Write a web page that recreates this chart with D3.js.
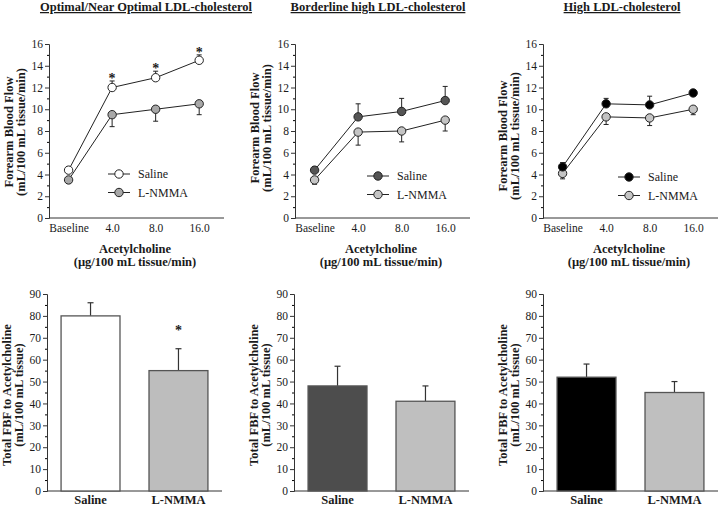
<!DOCTYPE html>
<html><head><meta charset="utf-8">
<script src="https://cdn.jsdelivr.net/npm/d3@7"></script>
<style>
html,body{margin:0;padding:0;background:#fff;}
svg{display:block;font-family:"Liberation Serif","Times New Roman",serif;}
</style></head>
<body><svg id="c" width="720" height="507"></svg>
<script>
// ---------- DATA ----------
const titles = ["Optimal/Near Optimal LDL-cholesterol", "Borderline high LDL-cholesterol", "High LDL-cholesterol"];
const doses = ["Baseline", "4.0", "8.0", "16.0"];
const seriesNames = ["Saline", "L-NMMA"];
const yTicksLine = [0, 2, 4, 6, 8, 10, 12, 14, 16];
const yTicksBar = [0, 10, 20, 30, 40, 50, 60, 70, 80, 90];

const optSaline = [4.4, 12.0, 12.9, 14.5];
const optSalineErr = [0.3, 0.6, 0.6, 0.5];
const optNMMA = [3.5, 9.5, 10.0, 10.5];
const optNMMAErr = [0.3, 1.1, 1.1, 1.0];
const optStars = [false, true, true, true];

const bordSaline = [4.4, 9.3, 9.8, 10.8];
const bordSalineErr = [0.3, 1.2, 1.2, 1.3];
const bordNMMA = [3.5, 7.9, 8.0, 9.0];
const bordNMMAErr = [0.4, 1.2, 1.0, 1.0];
const bordStars = [false, false, false, false];

const highSaline = [4.7, 10.5, 10.4, 11.5];
const highSalineErr = [0.4, 0.5, 0.8, 0.3];
const highNMMA = [4.1, 9.3, 9.2, 10.0];
const highNMMAErr = [0.5, 0.7, 0.7, 0.5];
const highStars = [false, false, false, false];

const totalSaline = [80, 48, 52];
const totalSalineErr = [6, 9, 6];
const totalNMMA = [55, 41, 45];
const totalNMMAErr = [10, 7, 5];
const totalStars = [true, false, false];

// ---------- LAYOUT / STYLE ----------
const salineFill = ["#ffffff", "#555555", "#000000"];
const nmmaFill = ["#a8a8a8", "#c4c4c4", "#c4c4c4"];
const barSalineFill = ["#ffffff", "#4d4d4d", "#000000"];
const barNmmaFill = ["#bdbdbd", "#bfbfbf", "#bfbfbf"];
const axisX = [49, 295, 543];
const titleX = [146, 378, 622];
const legendDX = [59, 72, 75];
const legendY = [174, 176, 177];
const barAxisX = [47, 294, 543];

const svg = d3.select("#c");
const lineSets = [
  {s: optSaline, se: optSalineErr, n: optNMMA, ne: optNMMAErr, stars: optStars},
  {s: bordSaline, se: bordSalineErr, n: bordNMMA, ne: bordNMMAErr, stars: bordStars},
  {s: highSaline, se: highSalineErr, n: highNMMA, ne: highNMMAErr, stars: highStars}
];

const textCol = "#1a1a1a";

lineSets.forEach((d, p) => {
  const x0 = axisX[p];
  const g = svg.append("g");
  g.append("text").attr("x", titleX[p]).attr("y", 11).attr("text-anchor", "middle")
    .attr("font-weight", "bold").attr("font-size", 12.5).attr("fill", textCol)
    .attr("text-decoration", "underline").text(titles[p]);

  const y = d3.scaleLinear().domain([0, 16]).range([218, 44]);
  const x = d3.scaleLinear().domain([-0.45, 3.57]).range([x0, x0 + 175]);

  const ya = d3.axisLeft(y).tickValues(yTicksLine).tickSize(4).tickPadding(2).tickFormat(d3.format("d"));
  const yg = g.append("g").attr("transform", `translate(${x0},0)`).call(ya);
  const ym = d3.axisLeft(y).tickValues(d3.range(1, 16, 2)).tickSize(2).tickFormat("");
  g.append("g").attr("transform", `translate(${x0},0)`).call(ym).select(".domain").remove();
  const xa = d3.axisBottom(x).tickValues([0, 1, 2, 3]).tickSize(0).tickPadding(6).tickFormat(i => doses[i]);
  const xg = g.append("g").attr("transform", `translate(0,218)`).call(xa);
  [yg, xg].forEach(a => {
    a.selectAll("text").attr("font-size", 11.5).attr("fill", textCol).attr("font-family", "Liberation Serif");
    a.selectAll("path,line").attr("stroke", "#333");
  });
  xg.select(".domain").attr("d", `M${x0},0H${x0 + 175}`);

  const yt = g.append("text").attr("transform", `translate(${x0 - 36},${p === 0 ? 132 : (p === 1 ? 128 : 136)}) rotate(-90)`)
    .attr("text-anchor", "middle").attr("font-weight", "bold").attr("font-size", 12.5).attr("fill", textCol);
  yt.append("tspan").attr("x", 0).attr("dy", 0).text("Forearm Blood Flow");
  yt.append("tspan").attr("x", 0).attr("dy", 12).text("(mL/100 mL tissue/min)");
  const xt = g.append("text").attr("x", x0 + 86).attr("y", 253).attr("text-anchor", "middle")
    .attr("font-weight", "bold").attr("font-size", 12.5).attr("fill", textCol);
  xt.append("tspan").attr("x", x0 + 86).text("Acetylcholine");
  xt.append("tspan").attr("x", x0 + 86).attr("dy", 13).text("(µg/100 mL tissue/min)");

  const line = d3.line().x((v, i) => x(i)).y(v => y(v));
  const series = [
    {vals: d.n, err: d.ne, dir: -1, fill: nmmaFill[p]},
    {vals: d.s, err: d.se, dir: 1, fill: salineFill[p]}
  ];
  series.forEach(s => {
    s.vals.forEach((v, i) => {
      const ye = y(v + s.dir * s.err[i]);
      g.append("line").attr("x1", x(i)).attr("x2", x(i)).attr("y1", y(v)).attr("y2", ye).attr("stroke", "#222").attr("stroke-width", 1);
      g.append("line").attr("x1", x(i) - 2.5).attr("x2", x(i) + 2.5).attr("y1", ye).attr("y2", ye).attr("stroke", "#222").attr("stroke-width", 1);
    });
  });
  series.forEach(s => {
    g.append("path").attr("d", line(s.vals)).attr("fill", "none").attr("stroke", "#222").attr("stroke-width", 1);
    g.selectAll(null).data(s.vals).enter().append("circle")
      .attr("cx", (v, i) => x(i)).attr("cy", v => y(v)).attr("r", 4.2)
      .attr("fill", s.fill).attr("stroke", "#222").attr("stroke-width", 1);
  });
  d.s.forEach((v, i) => {
    if (d.stars[i]) {
      g.append("text").attr("x", x(i)).attr("y", y(v + d.se[i]) + 2).attr("text-anchor", "middle")
        .attr("font-size", 14).attr("font-weight", "bold").attr("fill", textCol).text("*");
    }
  });
  const lx = x0 + legendDX[p];
  [salineFill[p], nmmaFill[p]].forEach((f, k) => {
    const ly = legendY[p] + k * 18.5;
    g.append("line").attr("x1", lx).attr("x2", lx + 22).attr("y1", ly).attr("y2", ly).attr("stroke", "#222");
    g.append("circle").attr("cx", lx + 11).attr("cy", ly).attr("r", 4.2).attr("fill", f).attr("stroke", "#222");
    g.append("text").attr("x", lx + 30).attr("y", ly + 4).attr("font-size", 12).attr("fill", textCol).text(seriesNames[k]);
  });
});

// ---------- BAR CHARTS ----------
[0, 1, 2].forEach(p => {
  const x0 = barAxisX[p];
  const g = svg.append("g");
  const y = d3.scaleLinear().domain([0, 90]).range([491, 294]);
  const x = d3.scaleBand().domain(seriesNames).range([x0, x0 + 175]).paddingInner(0.33).paddingOuter(0.16);

  const ya = d3.axisLeft(y).tickValues(yTicksBar).tickSize(4).tickPadding(2);
  const yg = g.append("g").attr("transform", `translate(${x0},0)`).call(ya);
  const ym = d3.axisLeft(y).tickValues(d3.range(5, 90, 10)).tickSize(2).tickFormat("");
  g.append("g").attr("transform", `translate(${x0},0)`).call(ym).select(".domain").remove();
  const xa = d3.axisBottom(x).tickSize(0).tickPadding(4);
  const xg = g.append("g").attr("transform", `translate(0,491)`).call(xa);
  yg.selectAll("text").attr("font-size", 11.5).attr("fill", textCol).attr("font-family", "Liberation Serif");
  xg.selectAll("text").attr("font-size", 12.5).attr("font-weight", "bold").attr("fill", textCol).attr("font-family", "Liberation Serif").attr("dy", "0.68em");
  [yg, xg].forEach(a => a.selectAll("path,line").attr("stroke", "#333"));
  xg.select(".domain").attr("d", `M${x0},0H${x0 + 175}`);

  const vals = [totalSaline[p], totalNMMA[p]];
  const errs = [totalSalineErr[p], totalNMMAErr[p]];
  const fills = [barSalineFill[p], barNmmaFill[p]];
  seriesNames.forEach((nm, k) => {
    const cx = x(nm) + x.bandwidth() / 2;
    g.append("line").attr("x1", cx).attr("x2", cx).attr("y1", y(vals[k])).attr("y2", y(vals[k] + errs[k])).attr("stroke", "#333").attr("stroke-width", 1.2);
    g.append("line").attr("x1", cx - 3).attr("x2", cx + 3).attr("y1", y(vals[k] + errs[k])).attr("y2", y(vals[k] + errs[k])).attr("stroke", "#333").attr("stroke-width", 1.2);
    g.append("rect").attr("x", x(nm)).attr("y", y(vals[k])).attr("width", x.bandwidth()).attr("height", y(0) - y(vals[k]))
      .attr("fill", fills[k]).attr("stroke", "#555").attr("stroke-width", 1.3);
  });
  if (totalStars[p]) {
    const cx = x("L-NMMA") + x.bandwidth() / 2;
    g.append("text").attr("x", cx).attr("y", y(totalNMMA[p] + totalNMMAErr[p]) - 14).attr("text-anchor", "middle")
      .attr("font-size", 14).attr("font-weight", "bold").attr("fill", textCol).text("*");
  }
  const yt = g.append("text").attr("transform", `translate(${x0 - 36},${395}) rotate(-90)`)
    .attr("text-anchor", "middle").attr("font-weight", "bold").attr("font-size", 12.5).attr("fill", textCol);
  yt.append("tspan").attr("x", 0).text("Total FBF to Acetylcholine");
  yt.append("tspan").attr("x", 0).attr("dy", 11.5).text("(mL/100 mL tissue)");
});
</script>
</body></html>
